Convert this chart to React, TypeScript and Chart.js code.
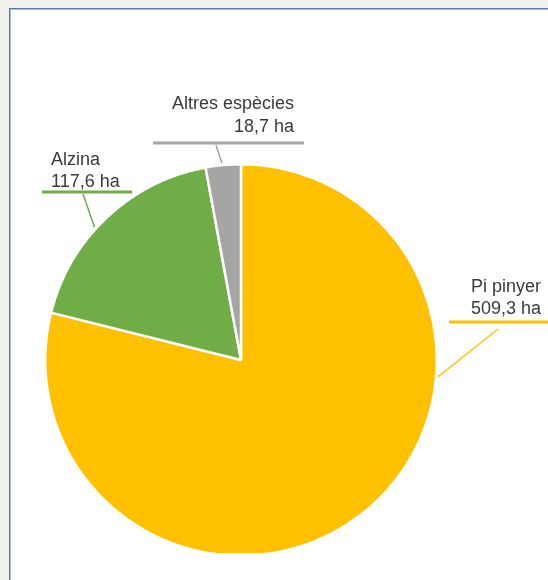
import React, { useEffect, useRef } from "react";
import { Chart, registerables } from "chart.js";

Chart.register(...registerables);

const categories = ["Pi pinyer", "Alzina", "Altres espècies"];
const areas = [509.3, 117.6, 18.7];
const colors = ["#FFC000", "#70AD47", "#A5A5A5"];

const formatHa = (v: number) => v.toFixed(1).replace(".", ",") + " ha";

// Layout of the callout labels (positions only, no data)
const labelLayout = [
  { tx: 471, align: "left", b1: 292, b2: 314, ux1: 449, ux2: 560, uy: 322, lx: 498, ly: 329, frac: 0.334 },
  { tx: 51, align: "left", b1: 165, b2: 187, ux1: 42, ux2: 132, uy: 192, lx: 83, ly: 194, frac: 0.43 },
  { tx: 294, align: "right", b1: 109, b2: 132, ux1: 153, ux2: 304, uy: 143, lx: 216, ly: 145, frac: 0.47 },
];

const calloutPlugin = {
  id: "callouts",
  afterDraw(chart: any) {
    const ctx = chart.ctx;
    const meta = chart.getDatasetMeta(0);
    ctx.save();
    meta.data.forEach((arc: any, i: number) => {
      const L = labelLayout[i];
      const color = colors[i];
      ctx.fillStyle = "#3a3a3a";
      ctx.font = '18px "Liberation Sans", Arial, sans-serif';
      ctx.textAlign = L.align;
      ctx.textBaseline = "alphabetic";
      ctx.fillText(categories[i], L.tx, L.b1);
      ctx.fillText(formatHa(areas[i]), L.tx, L.b2);
      ctx.strokeStyle = color;
      ctx.lineWidth = 3;
      ctx.beginPath();
      ctx.moveTo(L.ux1, L.uy);
      ctx.lineTo(L.ux2, L.uy);
      ctx.stroke();
      const p = arc.getProps(["x", "y", "startAngle", "endAngle", "outerRadius"], true);
      const a = p.startAngle + L.frac * (p.endAngle - p.startAngle);
      const ex = p.x + (p.outerRadius + 2) * Math.cos(a);
      const ey = p.y + (p.outerRadius + 2) * Math.sin(a);
      ctx.lineWidth = 1.5;
      ctx.beginPath();
      ctx.moveTo(L.lx, L.ly);
      ctx.lineTo(ex, ey);
      ctx.stroke();
    });
    ctx.restore();
  },
};

export default function App() {
  const ref = useRef<HTMLCanvasElement | null>(null);
  useEffect(() => {
    if (!ref.current) return;
    const chart = new Chart(ref.current, {
      type: "pie",
      data: {
        labels: categories,
        datasets: [
          {
            data: areas,
            backgroundColor: colors,
            borderColor: "#ffffff",
            borderWidth: 2.5,
          },
        ],
      },
      options: {
        responsive: false,
        animation: false,
        layout: { padding: { left: 44, right: 110, top: 163, bottom: 23 } },
        plugins: {
          legend: { display: false },
          tooltip: { enabled: false },
        },
      },
      plugins: [calloutPlugin],
    });
    return () => chart.destroy();
  }, []);

  return (
    <div style={{ position: "fixed", left: 0, top: 0, width: 548, height: 580, background: "#f1f1ed", overflow: "hidden" }}>
      <div
        style={{
          position: "absolute",
          left: 9,
          top: 8,
          width: 700,
          height: 700,
          background: "#ffffff",
          borderLeft: "1px solid #5a78a8",
          borderTop: "1px solid #5a78a8",
          boxShadow: "inset 1px 1px 0 #a7bad8",
        }}
      />
      <div style={{ position: "absolute", left: 0, top: 0, width: 548, height: 553, overflow: "hidden" }}>
        <canvas ref={ref} width={548} height={580} style={{ display: "block" }} />
      </div>
    </div>
  );
}
